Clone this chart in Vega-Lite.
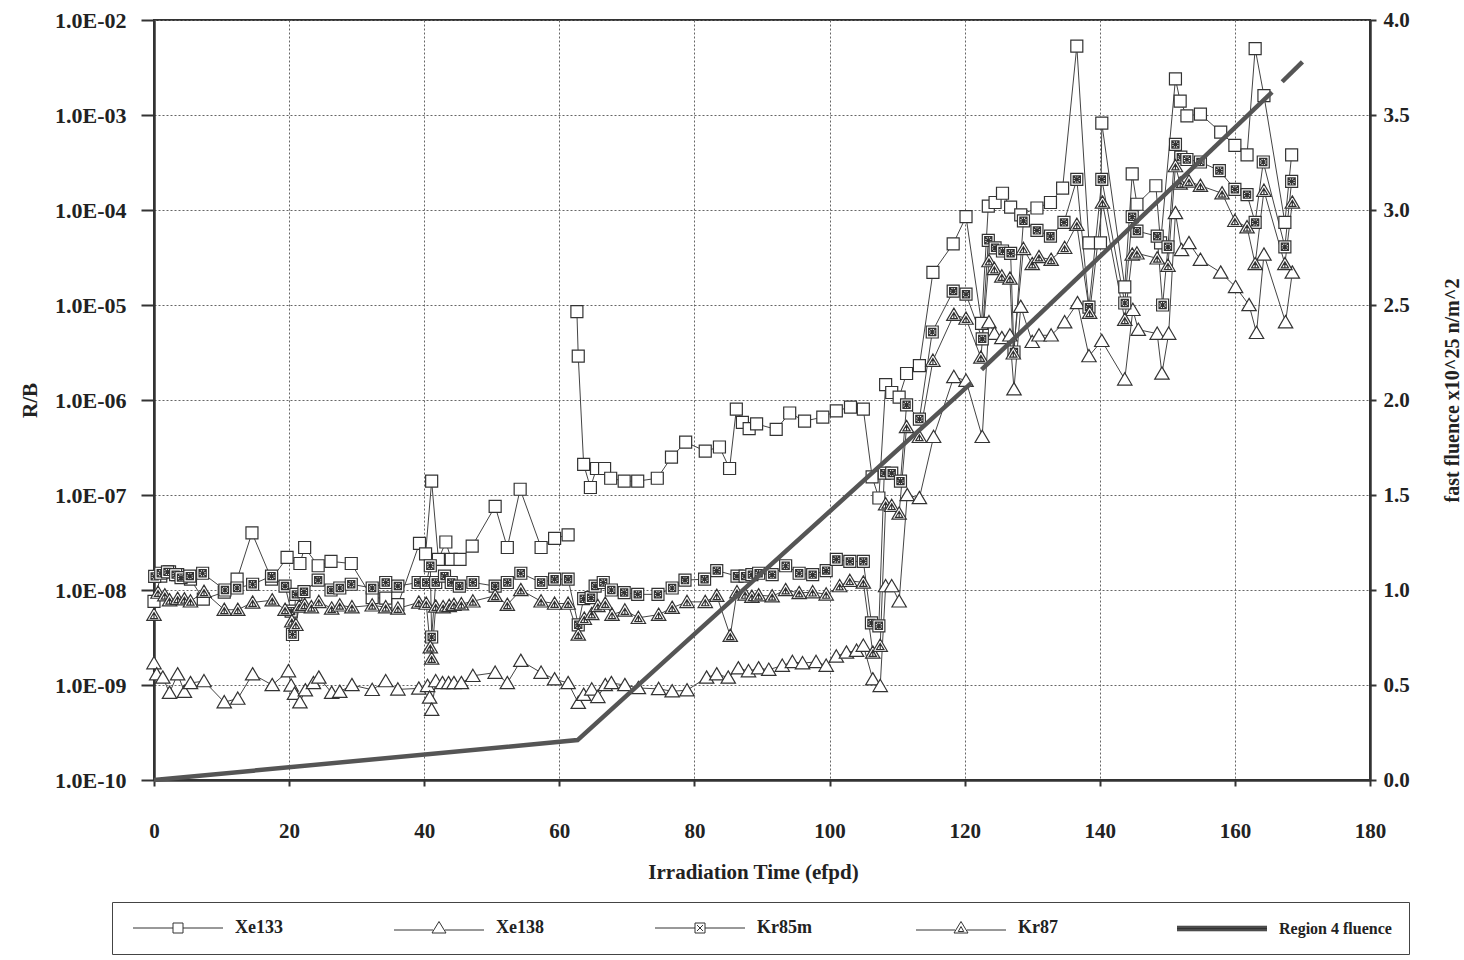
{
  "$schema": "https://vega.github.io/schema/vega-lite/v6.json",
  "width": 1216,
  "height": 760,
  "autosize": {"type": "none"},
  "padding": {"left": 154, "top": 20, "right": 94, "bottom": 180},
  "background": "white",
  "datasets": {
    "gas": [
      {"s": "Xe133", "t": 0, "v": 7.6e-9, "g": "a"},
      {"s": "Xe133", "t": 1.0, "v": 1.4e-8, "g": "a"},
      {"s": "Xe133", "t": 2.3, "v": 1.55e-8, "g": "a"},
      {"s": "Xe133", "t": 3.5, "v": 1.45e-8, "g": "a"},
      {"s": "Xe133", "t": 5.4, "v": 1.3e-8, "g": "a"},
      {"s": "Xe133", "t": 7.3, "v": 8e-9, "g": "a"},
      {"s": "Xe133", "t": 10.4, "v": 9.5e-9, "g": "a"},
      {"s": "Xe133", "t": 12.3, "v": 1.3e-8, "g": "a"},
      {"s": "Xe133", "t": 14.5, "v": 4e-8, "g": "a"},
      {"s": "Xe133", "t": 17.4, "v": 1.3e-8, "g": "a"},
      {"s": "Xe133", "t": 19.7, "v": 2.2e-8, "g": "a"},
      {"s": "Xe133", "t": 21.6, "v": 1.9e-8, "g": "a"},
      {"s": "Xe133", "t": 22.3, "v": 2.8e-8, "g": "a"},
      {"s": "Xe133", "t": 24.3, "v": 1.8e-8, "g": "a"},
      {"s": "Xe133", "t": 26.2, "v": 2e-8, "g": "a"},
      {"s": "Xe133", "t": 29.2, "v": 1.9e-8, "g": "a"},
      {"s": "Xe133", "t": 32.3, "v": 8.3e-9, "g": "a"},
      {"s": "Xe133", "t": 34.3, "v": 8.2e-9, "g": "a"},
      {"s": "Xe133", "t": 36.1, "v": 7e-9, "g": "a"},
      {"s": "Xe133", "t": 39.3, "v": 3.1e-8, "g": "a"},
      {"s": "Xe133", "t": 40.2, "v": 2.4e-8, "g": "a"},
      {"s": "Xe133", "t": 41.1, "v": 1.4e-7, "g": "a"},
      {"s": "Xe133", "t": 42.1, "v": 2.1e-8, "g": "a"},
      {"s": "Xe133", "t": 43.2, "v": 3.2e-8, "g": "a"},
      {"s": "Xe133", "t": 44.0, "v": 2.1e-8, "g": "a"},
      {"s": "Xe133", "t": 45.3, "v": 2.1e-8, "g": "a"},
      {"s": "Xe133", "t": 47.1, "v": 2.9e-8, "g": "a"},
      {"s": "Xe133", "t": 50.5, "v": 7.6e-8, "g": "a"},
      {"s": "Xe133", "t": 52.3, "v": 2.8e-8, "g": "a"},
      {"s": "Xe133", "t": 54.2, "v": 1.15e-7, "g": "a"},
      {"s": "Xe133", "t": 57.3, "v": 2.8e-8, "g": "a"},
      {"s": "Xe133", "t": 59.3, "v": 3.5e-8, "g": "a"},
      {"s": "Xe133", "t": 61.3, "v": 3.8e-8, "g": "a"},
      {"s": "Xe133", "t": 62.6, "v": 8.5e-6},
      {"s": "Xe133", "t": 62.8, "v": 2.9e-6},
      {"s": "Xe133", "t": 63.6, "v": 2.1e-7},
      {"s": "Xe133", "t": 64.6, "v": 1.2e-7},
      {"s": "Xe133", "t": 65.5, "v": 1.9e-7},
      {"s": "Xe133", "t": 66.7, "v": 1.9e-7},
      {"s": "Xe133", "t": 67.6, "v": 1.5e-7},
      {"s": "Xe133", "t": 69.6, "v": 1.4e-7},
      {"s": "Xe133", "t": 71.6, "v": 1.4e-7},
      {"s": "Xe133", "t": 74.5, "v": 1.5e-7},
      {"s": "Xe133", "t": 76.6, "v": 2.5e-7},
      {"s": "Xe133", "t": 78.7, "v": 3.6e-7},
      {"s": "Xe133", "t": 81.6, "v": 2.9e-7},
      {"s": "Xe133", "t": 83.7, "v": 3.2e-7},
      {"s": "Xe133", "t": 85.2, "v": 1.9e-7},
      {"s": "Xe133", "t": 86.2, "v": 8e-7},
      {"s": "Xe133", "t": 87.1, "v": 5.8e-7},
      {"s": "Xe133", "t": 88.1, "v": 5e-7},
      {"s": "Xe133", "t": 89.2, "v": 5.6e-7},
      {"s": "Xe133", "t": 92.1, "v": 4.9e-7},
      {"s": "Xe133", "t": 94.1, "v": 7.3e-7},
      {"s": "Xe133", "t": 96.3, "v": 6e-7},
      {"s": "Xe133", "t": 99.0, "v": 6.6e-7},
      {"s": "Xe133", "t": 101.0, "v": 7.7e-7},
      {"s": "Xe133", "t": 103.1, "v": 8.4e-7},
      {"s": "Xe133", "t": 105.0, "v": 8e-7},
      {"s": "Xe133", "t": 106.3, "v": 1.55e-7},
      {"s": "Xe133", "t": 107.3, "v": 9.3e-8},
      {"s": "Xe133", "t": 108.3, "v": 1.45e-6},
      {"s": "Xe133", "t": 109.2, "v": 1.2e-6},
      {"s": "Xe133", "t": 110.3, "v": 1.07e-6},
      {"s": "Xe133", "t": 111.4, "v": 1.9e-6},
      {"s": "Xe133", "t": 113.3, "v": 2.3e-6},
      {"s": "Xe133", "t": 115.3, "v": 2.2e-5},
      {"s": "Xe133", "t": 118.3, "v": 4.4e-5},
      {"s": "Xe133", "t": 120.2, "v": 8.5e-5},
      {"s": "Xe133", "t": 122.5, "v": 6.4e-6},
      {"s": "Xe133", "t": 123.5, "v": 1.1e-4},
      {"s": "Xe133", "t": 124.5, "v": 1.2e-4},
      {"s": "Xe133", "t": 125.6, "v": 1.5e-4},
      {"s": "Xe133", "t": 126.8, "v": 1.07e-4},
      {"s": "Xe133", "t": 128.3, "v": 8.9e-5},
      {"s": "Xe133", "t": 130.7, "v": 1.05e-4},
      {"s": "Xe133", "t": 132.7, "v": 1.2e-4},
      {"s": "Xe133", "t": 134.5, "v": 1.7e-4},
      {"s": "Xe133", "t": 136.6, "v": 5.3e-3},
      {"s": "Xe133", "t": 138.4, "v": 4.5e-5},
      {"s": "Xe133", "t": 140.1, "v": 4.5e-5},
      {"s": "Xe133", "t": 140.3, "v": 8.2e-4},
      {"s": "Xe133", "t": 143.7, "v": 1.55e-5},
      {"s": "Xe133", "t": 144.8, "v": 2.4e-4},
      {"s": "Xe133", "t": 145.5, "v": 1.15e-4},
      {"s": "Xe133", "t": 148.3, "v": 1.8e-4},
      {"s": "Xe133", "t": 149.0, "v": 4.5e-5},
      {"s": "Xe133", "t": 151.2, "v": 2.4e-3},
      {"s": "Xe133", "t": 151.9, "v": 1.4e-3},
      {"s": "Xe133", "t": 152.9, "v": 9.8e-4},
      {"s": "Xe133", "t": 154.9, "v": 1.02e-3},
      {"s": "Xe133", "t": 157.9, "v": 6.6e-4},
      {"s": "Xe133", "t": 160.0, "v": 4.8e-4},
      {"s": "Xe133", "t": 161.8, "v": 3.8e-4},
      {"s": "Xe133", "t": 163.0, "v": 5e-3},
      {"s": "Xe133", "t": 164.3, "v": 1.6e-3},
      {"s": "Xe133", "t": 167.4, "v": 7.4e-5},
      {"s": "Xe133", "t": 168.4, "v": 3.8e-4},

      {"s": "Xe138", "t": 0, "v": 1.7e-9},
      {"s": "Xe138", "t": 0.4, "v": 1.3e-9},
      {"s": "Xe138", "t": 1.3, "v": 1.2e-9},
      {"s": "Xe138", "t": 2.3, "v": 8.3e-10},
      {"s": "Xe138", "t": 3.5, "v": 1.3e-9},
      {"s": "Xe138", "t": 4.5, "v": 8.5e-10},
      {"s": "Xe138", "t": 5.4, "v": 1.05e-9},
      {"s": "Xe138", "t": 7.4, "v": 1.1e-9},
      {"s": "Xe138", "t": 10.4, "v": 6.6e-10},
      {"s": "Xe138", "t": 12.4, "v": 7.2e-10},
      {"s": "Xe138", "t": 14.6, "v": 1.3e-9},
      {"s": "Xe138", "t": 17.5, "v": 1e-9},
      {"s": "Xe138", "t": 19.9, "v": 1.4e-9},
      {"s": "Xe138", "t": 20.3, "v": 9.9e-10},
      {"s": "Xe138", "t": 20.8, "v": 8.1e-10},
      {"s": "Xe138", "t": 21.6, "v": 6.6e-10},
      {"s": "Xe138", "t": 22.4, "v": 8.8e-10},
      {"s": "Xe138", "t": 23.6, "v": 1.05e-9},
      {"s": "Xe138", "t": 24.4, "v": 1.2e-9},
      {"s": "Xe138", "t": 26.3, "v": 8.3e-10},
      {"s": "Xe138", "t": 27.5, "v": 8.5e-10},
      {"s": "Xe138", "t": 29.3, "v": 1e-9},
      {"s": "Xe138", "t": 32.3, "v": 8.9e-10},
      {"s": "Xe138", "t": 34.3, "v": 1.1e-9},
      {"s": "Xe138", "t": 36.1, "v": 9e-10},
      {"s": "Xe138", "t": 39.2, "v": 9.2e-10},
      {"s": "Xe138", "t": 40.5, "v": 9.8e-10},
      {"s": "Xe138", "t": 40.8, "v": 7.4e-10},
      {"s": "Xe138", "t": 41.1, "v": 5.5e-10},
      {"s": "Xe138", "t": 41.7, "v": 1.1e-9},
      {"s": "Xe138", "t": 42.7, "v": 1.05e-9},
      {"s": "Xe138", "t": 43.6, "v": 1.05e-9},
      {"s": "Xe138", "t": 44.4, "v": 1.05e-9},
      {"s": "Xe138", "t": 45.5, "v": 1.05e-9},
      {"s": "Xe138", "t": 47.2, "v": 1.25e-9},
      {"s": "Xe138", "t": 50.5, "v": 1.35e-9},
      {"s": "Xe138", "t": 52.3, "v": 1.05e-9},
      {"s": "Xe138", "t": 54.3, "v": 1.8e-9},
      {"s": "Xe138", "t": 57.3, "v": 1.35e-9},
      {"s": "Xe138", "t": 59.3, "v": 1.15e-9},
      {"s": "Xe138", "t": 61.3, "v": 1.05e-9},
      {"s": "Xe138", "t": 62.8, "v": 6.5e-10},
      {"s": "Xe138", "t": 63.6, "v": 7.9e-10},
      {"s": "Xe138", "t": 64.8, "v": 9e-10},
      {"s": "Xe138", "t": 65.7, "v": 7.5e-10},
      {"s": "Xe138", "t": 66.8, "v": 1e-9},
      {"s": "Xe138", "t": 67.7, "v": 1.05e-9},
      {"s": "Xe138", "t": 69.7, "v": 1e-9},
      {"s": "Xe138", "t": 71.7, "v": 9.3e-10},
      {"s": "Xe138", "t": 74.7, "v": 9.1e-10},
      {"s": "Xe138", "t": 76.7, "v": 8.6e-10},
      {"s": "Xe138", "t": 78.9, "v": 8.8e-10},
      {"s": "Xe138", "t": 81.8, "v": 1.2e-9},
      {"s": "Xe138", "t": 83.3, "v": 1.3e-9},
      {"s": "Xe138", "t": 85.0, "v": 1.2e-9},
      {"s": "Xe138", "t": 86.5, "v": 1.5e-9},
      {"s": "Xe138", "t": 88.0, "v": 1.4e-9},
      {"s": "Xe138", "t": 89.5, "v": 1.5e-9},
      {"s": "Xe138", "t": 91.0, "v": 1.45e-9},
      {"s": "Xe138", "t": 93.0, "v": 1.6e-9},
      {"s": "Xe138", "t": 94.5, "v": 1.75e-9},
      {"s": "Xe138", "t": 96.0, "v": 1.7e-9},
      {"s": "Xe138", "t": 98.0, "v": 1.75e-9},
      {"s": "Xe138", "t": 99.5, "v": 1.6e-9},
      {"s": "Xe138", "t": 101.0, "v": 2e-9},
      {"s": "Xe138", "t": 102.5, "v": 2.2e-9},
      {"s": "Xe138", "t": 104.0, "v": 2.3e-9},
      {"s": "Xe138", "t": 105.0, "v": 2.6e-9},
      {"s": "Xe138", "t": 106.4, "v": 1.15e-9},
      {"s": "Xe138", "t": 107.5, "v": 9.8e-10},
      {"s": "Xe138", "t": 108.3, "v": 1.1e-8},
      {"s": "Xe138", "t": 109.2, "v": 1.1e-8},
      {"s": "Xe138", "t": 110.3, "v": 7.6e-9},
      {"s": "Xe138", "t": 111.5, "v": 1e-7},
      {"s": "Xe138", "t": 113.3, "v": 9.3e-8},
      {"s": "Xe138", "t": 115.4, "v": 4.1e-7},
      {"s": "Xe138", "t": 118.4, "v": 1.75e-6},
      {"s": "Xe138", "t": 120.2, "v": 1.6e-6},
      {"s": "Xe138", "t": 122.6, "v": 4.1e-7},
      {"s": "Xe138", "t": 123.6, "v": 6.6e-6},
      {"s": "Xe138", "t": 124.4, "v": 5e-6},
      {"s": "Xe138", "t": 125.5, "v": 4.5e-6},
      {"s": "Xe138", "t": 126.7, "v": 4.8e-6},
      {"s": "Xe138", "t": 127.3, "v": 1.3e-6},
      {"s": "Xe138", "t": 128.3, "v": 9.6e-6},
      {"s": "Xe138", "t": 130.0, "v": 4.1e-6},
      {"s": "Xe138", "t": 131.0, "v": 4.8e-6},
      {"s": "Xe138", "t": 132.8, "v": 4.8e-6},
      {"s": "Xe138", "t": 134.8, "v": 6.6e-6},
      {"s": "Xe138", "t": 136.7, "v": 1.05e-5},
      {"s": "Xe138", "t": 138.4, "v": 2.9e-6},
      {"s": "Xe138", "t": 140.3, "v": 4.2e-6},
      {"s": "Xe138", "t": 143.7, "v": 1.65e-6},
      {"s": "Xe138", "t": 144.9, "v": 8.9e-6},
      {"s": "Xe138", "t": 145.7, "v": 5.5e-6},
      {"s": "Xe138", "t": 148.5, "v": 5e-6},
      {"s": "Xe138", "t": 149.2, "v": 1.9e-6},
      {"s": "Xe138", "t": 150.2, "v": 5e-6},
      {"s": "Xe138", "t": 151.2, "v": 9.3e-5},
      {"s": "Xe138", "t": 152.1, "v": 3.8e-5},
      {"s": "Xe138", "t": 153.2, "v": 4.5e-5},
      {"s": "Xe138", "t": 154.9, "v": 3e-5},
      {"s": "Xe138", "t": 157.9, "v": 2.2e-5},
      {"s": "Xe138", "t": 160.1, "v": 1.55e-5},
      {"s": "Xe138", "t": 162.1, "v": 1e-5},
      {"s": "Xe138", "t": 163.2, "v": 5.1e-6},
      {"s": "Xe138", "t": 164.3, "v": 3.4e-5},
      {"s": "Xe138", "t": 167.5, "v": 6.6e-6},
      {"s": "Xe138", "t": 168.5, "v": 2.2e-5},

      {"s": "Kr85m", "t": 0.1, "v": 1.39e-8},
      {"s": "Kr85m", "t": 1.0, "v": 1.5e-8},
      {"s": "Kr85m", "t": 2.0, "v": 1.55e-8},
      {"s": "Kr85m", "t": 3.2, "v": 1.45e-8},
      {"s": "Kr85m", "t": 4.0, "v": 1.35e-8},
      {"s": "Kr85m", "t": 5.3, "v": 1.4e-8},
      {"s": "Kr85m", "t": 7.2, "v": 1.5e-8},
      {"s": "Kr85m", "t": 10.5, "v": 1e-8},
      {"s": "Kr85m", "t": 12.3, "v": 1.05e-8},
      {"s": "Kr85m", "t": 14.6, "v": 1.15e-8},
      {"s": "Kr85m", "t": 17.4, "v": 1.4e-8},
      {"s": "Kr85m", "t": 19.4, "v": 1.1e-8},
      {"s": "Kr85m", "t": 20.3, "v": 6e-9},
      {"s": "Kr85m", "t": 20.5, "v": 3.4e-9},
      {"s": "Kr85m", "t": 21.0, "v": 9e-9},
      {"s": "Kr85m", "t": 22.2, "v": 9.6e-9},
      {"s": "Kr85m", "t": 24.3, "v": 1.27e-8},
      {"s": "Kr85m", "t": 26.2, "v": 1e-8},
      {"s": "Kr85m", "t": 27.5, "v": 1.05e-8},
      {"s": "Kr85m", "t": 29.2, "v": 1.15e-8},
      {"s": "Kr85m", "t": 32.3, "v": 1.05e-8},
      {"s": "Kr85m", "t": 34.3, "v": 1.2e-8},
      {"s": "Kr85m", "t": 36.1, "v": 1.1e-8},
      {"s": "Kr85m", "t": 39.1, "v": 1.2e-8},
      {"s": "Kr85m", "t": 40.3, "v": 1.2e-8},
      {"s": "Kr85m", "t": 40.9, "v": 1.8e-8},
      {"s": "Kr85m", "t": 41.1, "v": 3.2e-9},
      {"s": "Kr85m", "t": 41.7, "v": 1.2e-8},
      {"s": "Kr85m", "t": 43.0, "v": 1.4e-8},
      {"s": "Kr85m", "t": 44.0, "v": 1.2e-8},
      {"s": "Kr85m", "t": 45.2, "v": 1.1e-8},
      {"s": "Kr85m", "t": 47.2, "v": 1.2e-8},
      {"s": "Kr85m", "t": 50.5, "v": 1.1e-8},
      {"s": "Kr85m", "t": 52.3, "v": 1.2e-8},
      {"s": "Kr85m", "t": 54.3, "v": 1.5e-8},
      {"s": "Kr85m", "t": 57.3, "v": 1.2e-8},
      {"s": "Kr85m", "t": 59.3, "v": 1.3e-8},
      {"s": "Kr85m", "t": 61.3, "v": 1.3e-8},
      {"s": "Kr85m", "t": 62.8, "v": 4.3e-9},
      {"s": "Kr85m", "t": 63.6, "v": 8.1e-9},
      {"s": "Kr85m", "t": 64.7, "v": 8.3e-9},
      {"s": "Kr85m", "t": 65.3, "v": 1.1e-8},
      {"s": "Kr85m", "t": 66.5, "v": 1.2e-8},
      {"s": "Kr85m", "t": 67.7, "v": 1e-8},
      {"s": "Kr85m", "t": 69.6, "v": 9.4e-9},
      {"s": "Kr85m", "t": 71.6, "v": 9e-9},
      {"s": "Kr85m", "t": 74.6, "v": 9e-9},
      {"s": "Kr85m", "t": 76.7, "v": 1.05e-8},
      {"s": "Kr85m", "t": 78.6, "v": 1.27e-8},
      {"s": "Kr85m", "t": 81.5, "v": 1.3e-8},
      {"s": "Kr85m", "t": 83.3, "v": 1.6e-8},
      {"s": "Kr85m", "t": 86.3, "v": 1.4e-8},
      {"s": "Kr85m", "t": 87.5, "v": 1.4e-8},
      {"s": "Kr85m", "t": 88.5, "v": 1.45e-8},
      {"s": "Kr85m", "t": 89.5, "v": 1.5e-8},
      {"s": "Kr85m", "t": 91.5, "v": 1.45e-8},
      {"s": "Kr85m", "t": 93.5, "v": 1.8e-8},
      {"s": "Kr85m", "t": 95.5, "v": 1.5e-8},
      {"s": "Kr85m", "t": 97.5, "v": 1.45e-8},
      {"s": "Kr85m", "t": 99.5, "v": 1.6e-8},
      {"s": "Kr85m", "t": 101.0, "v": 2.1e-8},
      {"s": "Kr85m", "t": 103.0, "v": 2e-8},
      {"s": "Kr85m", "t": 105.0, "v": 2e-8},
      {"s": "Kr85m", "t": 106.2, "v": 4.5e-9},
      {"s": "Kr85m", "t": 107.3, "v": 4.2e-9},
      {"s": "Kr85m", "t": 108.1, "v": 1.7e-7},
      {"s": "Kr85m", "t": 109.2, "v": 1.7e-7},
      {"s": "Kr85m", "t": 110.5, "v": 1.4e-7},
      {"s": "Kr85m", "t": 111.4, "v": 8.9e-7},
      {"s": "Kr85m", "t": 113.3, "v": 6.3e-7},
      {"s": "Kr85m", "t": 115.2, "v": 5.2e-6},
      {"s": "Kr85m", "t": 118.3, "v": 1.4e-5},
      {"s": "Kr85m", "t": 120.2, "v": 1.3e-5},
      {"s": "Kr85m", "t": 122.6, "v": 4.4e-6},
      {"s": "Kr85m", "t": 123.5, "v": 4.8e-5},
      {"s": "Kr85m", "t": 124.5, "v": 4e-5},
      {"s": "Kr85m", "t": 125.6, "v": 3.7e-5},
      {"s": "Kr85m", "t": 126.8, "v": 3.5e-5},
      {"s": "Kr85m", "t": 127.3, "v": 3.2e-6},
      {"s": "Kr85m", "t": 128.7, "v": 7.7e-5},
      {"s": "Kr85m", "t": 130.7, "v": 6.1e-5},
      {"s": "Kr85m", "t": 132.7, "v": 5.3e-5},
      {"s": "Kr85m", "t": 134.7, "v": 7.4e-5},
      {"s": "Kr85m", "t": 136.6, "v": 2.1e-4},
      {"s": "Kr85m", "t": 138.4, "v": 9.5e-6},
      {"s": "Kr85m", "t": 140.3, "v": 2.1e-4},
      {"s": "Kr85m", "t": 143.7, "v": 1.05e-5},
      {"s": "Kr85m", "t": 144.8, "v": 8.5e-5},
      {"s": "Kr85m", "t": 145.5, "v": 6e-5},
      {"s": "Kr85m", "t": 148.5, "v": 5.3e-5},
      {"s": "Kr85m", "t": 149.3, "v": 1e-5},
      {"s": "Kr85m", "t": 150.1, "v": 4.1e-5},
      {"s": "Kr85m", "t": 151.2, "v": 4.9e-4},
      {"s": "Kr85m", "t": 152.0, "v": 3.6e-4},
      {"s": "Kr85m", "t": 152.9, "v": 3.4e-4},
      {"s": "Kr85m", "t": 154.9, "v": 3.2e-4},
      {"s": "Kr85m", "t": 157.7, "v": 2.6e-4},
      {"s": "Kr85m", "t": 160.0, "v": 1.65e-4},
      {"s": "Kr85m", "t": 161.8, "v": 1.45e-4},
      {"s": "Kr85m", "t": 163.0, "v": 7.4e-5},
      {"s": "Kr85m", "t": 164.2, "v": 3.2e-4},
      {"s": "Kr85m", "t": 167.4, "v": 4.1e-5},
      {"s": "Kr85m", "t": 168.4, "v": 2e-4},

      {"s": "Kr87", "t": 0, "v": 5.5e-9},
      {"s": "Kr87", "t": 0.6, "v": 9.4e-9},
      {"s": "Kr87", "t": 1.6, "v": 8.8e-9},
      {"s": "Kr87", "t": 2.3, "v": 7.8e-9},
      {"s": "Kr87", "t": 3.5, "v": 8.1e-9},
      {"s": "Kr87", "t": 4.5, "v": 8e-9},
      {"s": "Kr87", "t": 5.4, "v": 7.6e-9},
      {"s": "Kr87", "t": 7.4, "v": 9.6e-9},
      {"s": "Kr87", "t": 10.4, "v": 6.2e-9},
      {"s": "Kr87", "t": 12.4, "v": 6.2e-9},
      {"s": "Kr87", "t": 14.6, "v": 7.4e-9},
      {"s": "Kr87", "t": 17.5, "v": 7.8e-9},
      {"s": "Kr87", "t": 19.4, "v": 6.2e-9},
      {"s": "Kr87", "t": 20.4, "v": 4.7e-9},
      {"s": "Kr87", "t": 21.0, "v": 4.3e-9},
      {"s": "Kr87", "t": 21.5, "v": 6.7e-9},
      {"s": "Kr87", "t": 22.3, "v": 7e-9},
      {"s": "Kr87", "t": 23.3, "v": 6.6e-9},
      {"s": "Kr87", "t": 24.4, "v": 7.5e-9},
      {"s": "Kr87", "t": 26.3, "v": 6.4e-9},
      {"s": "Kr87", "t": 27.5, "v": 6.9e-9},
      {"s": "Kr87", "t": 29.3, "v": 6.6e-9},
      {"s": "Kr87", "t": 32.3, "v": 6.9e-9},
      {"s": "Kr87", "t": 34.3, "v": 6.6e-9},
      {"s": "Kr87", "t": 36.1, "v": 6.4e-9},
      {"s": "Kr87", "t": 39.2, "v": 7.4e-9},
      {"s": "Kr87", "t": 40.3, "v": 7.2e-9},
      {"s": "Kr87", "t": 40.9, "v": 2.5e-9},
      {"s": "Kr87", "t": 41.1, "v": 1.9e-9},
      {"s": "Kr87", "t": 41.7, "v": 6.7e-9},
      {"s": "Kr87", "t": 42.8, "v": 6.6e-9},
      {"s": "Kr87", "t": 43.7, "v": 6.8e-9},
      {"s": "Kr87", "t": 44.4, "v": 7e-9},
      {"s": "Kr87", "t": 45.5, "v": 7.1e-9},
      {"s": "Kr87", "t": 47.2, "v": 7.6e-9},
      {"s": "Kr87", "t": 50.5, "v": 8.7e-9},
      {"s": "Kr87", "t": 52.3, "v": 7e-9},
      {"s": "Kr87", "t": 54.3, "v": 1e-8},
      {"s": "Kr87", "t": 57.3, "v": 7.6e-9},
      {"s": "Kr87", "t": 59.3, "v": 7.2e-9},
      {"s": "Kr87", "t": 61.3, "v": 7.2e-9},
      {"s": "Kr87", "t": 62.8, "v": 3.4e-9},
      {"s": "Kr87", "t": 63.7, "v": 5e-9},
      {"s": "Kr87", "t": 64.8, "v": 5.6e-9},
      {"s": "Kr87", "t": 65.7, "v": 6.8e-9},
      {"s": "Kr87", "t": 66.8, "v": 7.2e-9},
      {"s": "Kr87", "t": 67.8, "v": 5.5e-9},
      {"s": "Kr87", "t": 69.7, "v": 6.1e-9},
      {"s": "Kr87", "t": 71.7, "v": 5.1e-9},
      {"s": "Kr87", "t": 74.7, "v": 5.5e-9},
      {"s": "Kr87", "t": 76.7, "v": 6.5e-9},
      {"s": "Kr87", "t": 78.9, "v": 7.5e-9},
      {"s": "Kr87", "t": 81.6, "v": 7.5e-9},
      {"s": "Kr87", "t": 83.3, "v": 8.7e-9},
      {"s": "Kr87", "t": 85.3, "v": 3.3e-9},
      {"s": "Kr87", "t": 86.3, "v": 9.5e-9},
      {"s": "Kr87", "t": 87.5, "v": 9e-9},
      {"s": "Kr87", "t": 88.5, "v": 8.5e-9},
      {"s": "Kr87", "t": 89.5, "v": 8.8e-9},
      {"s": "Kr87", "t": 91.5, "v": 8.6e-9},
      {"s": "Kr87", "t": 93.5, "v": 1e-8},
      {"s": "Kr87", "t": 95.5, "v": 9.3e-9},
      {"s": "Kr87", "t": 97.5, "v": 9.5e-9},
      {"s": "Kr87", "t": 99.5, "v": 9e-9},
      {"s": "Kr87", "t": 101.5, "v": 1.1e-8},
      {"s": "Kr87", "t": 103.0, "v": 1.25e-8},
      {"s": "Kr87", "t": 105.0, "v": 1.2e-8},
      {"s": "Kr87", "t": 106.4, "v": 2.2e-9},
      {"s": "Kr87", "t": 107.5, "v": 2.6e-9},
      {"s": "Kr87", "t": 108.3, "v": 8e-8},
      {"s": "Kr87", "t": 109.2, "v": 7.7e-8},
      {"s": "Kr87", "t": 110.3, "v": 6.4e-8},
      {"s": "Kr87", "t": 111.4, "v": 5.2e-7},
      {"s": "Kr87", "t": 113.3, "v": 4.1e-7},
      {"s": "Kr87", "t": 115.3, "v": 2.6e-6},
      {"s": "Kr87", "t": 118.4, "v": 7.9e-6},
      {"s": "Kr87", "t": 120.2, "v": 7.2e-6},
      {"s": "Kr87", "t": 122.4, "v": 2.8e-6},
      {"s": "Kr87", "t": 123.6, "v": 2.9e-5},
      {"s": "Kr87", "t": 124.4, "v": 2.4e-5},
      {"s": "Kr87", "t": 125.5, "v": 2e-5},
      {"s": "Kr87", "t": 126.7, "v": 1.9e-5},
      {"s": "Kr87", "t": 127.2, "v": 3.1e-6},
      {"s": "Kr87", "t": 128.7, "v": 3.9e-5},
      {"s": "Kr87", "t": 130.0, "v": 2.7e-5},
      {"s": "Kr87", "t": 131.0, "v": 3.2e-5},
      {"s": "Kr87", "t": 132.8, "v": 3e-5},
      {"s": "Kr87", "t": 134.8, "v": 4e-5},
      {"s": "Kr87", "t": 136.6, "v": 7e-5},
      {"s": "Kr87", "t": 138.5, "v": 8.3e-6},
      {"s": "Kr87", "t": 140.4, "v": 1.2e-4},
      {"s": "Kr87", "t": 143.7, "v": 7e-6},
      {"s": "Kr87", "t": 144.8, "v": 3.4e-5},
      {"s": "Kr87", "t": 145.5, "v": 3.5e-5},
      {"s": "Kr87", "t": 148.5, "v": 3.1e-5},
      {"s": "Kr87", "t": 150.1, "v": 2.6e-5},
      {"s": "Kr87", "t": 151.2, "v": 2.9e-4},
      {"s": "Kr87", "t": 151.9, "v": 1.9e-4},
      {"s": "Kr87", "t": 153.2, "v": 2e-4},
      {"s": "Kr87", "t": 154.9, "v": 1.8e-4},
      {"s": "Kr87", "t": 158.1, "v": 1.5e-4},
      {"s": "Kr87", "t": 160.0, "v": 7.7e-5},
      {"s": "Kr87", "t": 161.8, "v": 6.6e-5},
      {"s": "Kr87", "t": 163.0, "v": 2.7e-5},
      {"s": "Kr87", "t": 164.3, "v": 1.6e-4},
      {"s": "Kr87", "t": 167.4, "v": 2.7e-5},
      {"s": "Kr87", "t": 168.5, "v": 1.2e-4}
    ],
    "fluence": [
      {"t": 0, "f": 0, "g": "a"},
      {"t": 62.7, "f": 0.21, "g": "a"},
      {"t": 121.0, "f": 2.09, "g": "a"},
      {"t": 122.5, "f": 2.16, "g": "b"},
      {"t": 165.5, "f": 3.62, "g": "b"},
      {"t": 167.0, "f": 3.675, "g": "c"},
      {"t": 170.0, "f": 3.78, "g": "c"}
    ]
  },
  "layer": [
    {
      "data": {"name": "gas"},
      "layer": [
        {
          "mark": {"type": "line", "color": "#444", "strokeWidth": 1},
          "encoding": {
            "x": {
              "field": "t", "type": "quantitative",
              "scale": {"domain": [0, 180], "nice": false, "zero": false},
              "axis": {
                "values": [0, 20, 40, 60, 80, 100, 120, 140, 160, 180],
                "grid": true, "tickSize": 6, "labelPadding": 34, "labelFlush": false,
                "title": "Irradiation Time (efpd)",
                "titleX": 599, "titleY": 92, "titleBaseline": "middle", "titleAlign": "center"
              }
            },
            "y": {
              "field": "v", "type": "quantitative",
              "scale": {"type": "log", "domain": [1e-10, 1e-2], "nice": false},
              "axis": {
                "values": [1e-10, 1e-9, 1e-8, 1e-7, 1e-6, 1e-5, 1e-4, 1e-3, 1e-2],
                "labelExpr": "'1.0E-' + (-round(log(datum.value) / LN10) < 10 ? '0' : '') + (-round(log(datum.value) / LN10))",
                "labelFontSize": 22, "labelFlush": false,
                "grid": true, "tickSize": 13, "labelPadding": 15,
                "title": "R/B", "titleX": -124, "titleY": 380, "titleBaseline": "middle", "titleAlign": "center", "titleAngle": -90
              }
            },
            "detail": [{"field": "s"}, {"field": "g"}]
          }
        },
        {
          "mark": {"type": "point", "fill": "white", "stroke": "#333", "strokeWidth": 1.2, "opacity": 1, "size": 144},
          "encoding": {
            "x": {"field": "t", "type": "quantitative"},
            "y": {"field": "v", "type": "quantitative"},
            "shape": {
              "field": "s", "type": "nominal",
              "scale": {
                "domain": ["Xe133", "Xe138", "Kr85m", "Kr87"],
                "range": [
                  "M-1,-1H1V1H-1Z",
                  "M0,-1.1L1.2,0.95H-1.2Z",
                  "M-1,-1H1V1H-1Z M-0.6,-0.6H0.6V0.6H-0.6Z M-0.6,-0.6L0.6,0.6 M0.6,-0.6L-0.6,0.6 M0,-0.6V0.6 M-0.6,0H0.6",
                  "M0,-1.1L1.2,0.95H-1.2Z M0,-0.35L0.6,0.65H-0.6Z M0,-0.35V0.65"
                ]
              },
              "legend": null
            }
          }
        }
      ]
    },
    {
      "data": {"name": "fluence"},
      "mark": {"type": "line", "color": "#555", "strokeWidth": 4.5, "strokeCap": "butt"},
      "encoding": {
        "x": {"field": "t", "type": "quantitative"},
        "y": {
          "field": "f", "type": "quantitative",
          "scale": {"domain": [0, 4], "nice": false},
          "axis": {
            "orient": "right",
            "values": [0, 0.5, 1, 1.5, 2, 2.5, 3, 3.5, 4],
            "format": ".1f", "grid": false, "tickSize": 6, "labelPadding": 7, "labelFlush": false,
            "title": "fast fluence x10^25 n/m^2", "titleFontSize": 20,
            "titleX": 82, "titleY": 370, "titleAngle": -90, "titleBaseline": "middle", "titleAlign": "center"
          }
        },
        "detail": {"field": "g"}
      }
    },
    {
      "data": {"name": "gas"},
      "transform": [{"filter": "datum.t < -1"}],
      "mark": {"type": "point", "fill": "white", "stroke": "#333", "strokeWidth": 1, "opacity": 1},
      "encoding": {
        "shape": {
          "field": "s", "type": "nominal",
          "scale": {
            "domain": ["Xe133", "Xe138", "Kr85m", "Kr87", "Region 4 fluence"],
            "range": [
              "M-1,0H7 M9,0H17 M7,-1H9V1H7Z",
              "M-1,0.4H6.8 M9.2,0.4H17 M8,-1.3L9.4,1H6.6Z",
              "M-1,0H7 M9,0H17 M7,-1H9V1H7Z M7.4,-0.6L8.6,0.6 M8.6,-0.6L7.4,0.6",
              "M-1,0.4H6.8 M9.2,0.4H17 M8,-1.3L9.4,1H6.6Z M8,-0.3L8.55,0.7H7.45Z",
              "M-1,-0.45H17 M-1,-0.3H17 M-1,-0.15H17 M-1,0H17 M-1,0.15H17 M-1,0.3H17 M-1,0.45H17"
            ]
          },
          "legend": {
            "title": null,
            "orient": "none", "legendX": -42, "legendY": 882,
            "direction": "horizontal", "columns": 5, "gridAlign": "all", "columnPadding": 42,
            "padding": 17, "strokeColor": "#444", "fillColor": "white",
            "symbolSize": 100, "symbolStrokeWidth": 1,
            "labelFont": "Liberation Serif", "labelFontWeight": "bold",
            "labelFontSize": {"expr": "datum.label == 'Region 4 fluence' ? 16 : 18"},
            "labelColor": "#222", "labelOffset": 88, "labelLimit": 300
          }
        }
      }
    }
  ],
  "resolve": {"scale": {"y": "independent", "shape": "independent"}},
  "config": {
    "font": "Liberation Serif",
    "view": {"stroke": "#333", "strokeWidth": 2},
    "axis": {
      "labelFont": "Liberation Serif", "labelFontWeight": "bold", "labelFontSize": 21, "labelColor": "#222",
      "titleFont": "Liberation Serif", "titleFontWeight": "bold", "titleFontSize": 21, "titleColor": "#222",
      "domainColor": "#333", "domainWidth": 2.5, "tickColor": "#333", "tickWidth": 2,
      "gridColor": "#666", "gridDash": [2, 2], "gridWidth": 1, "gridOpacity": 1
    }
  }
}
